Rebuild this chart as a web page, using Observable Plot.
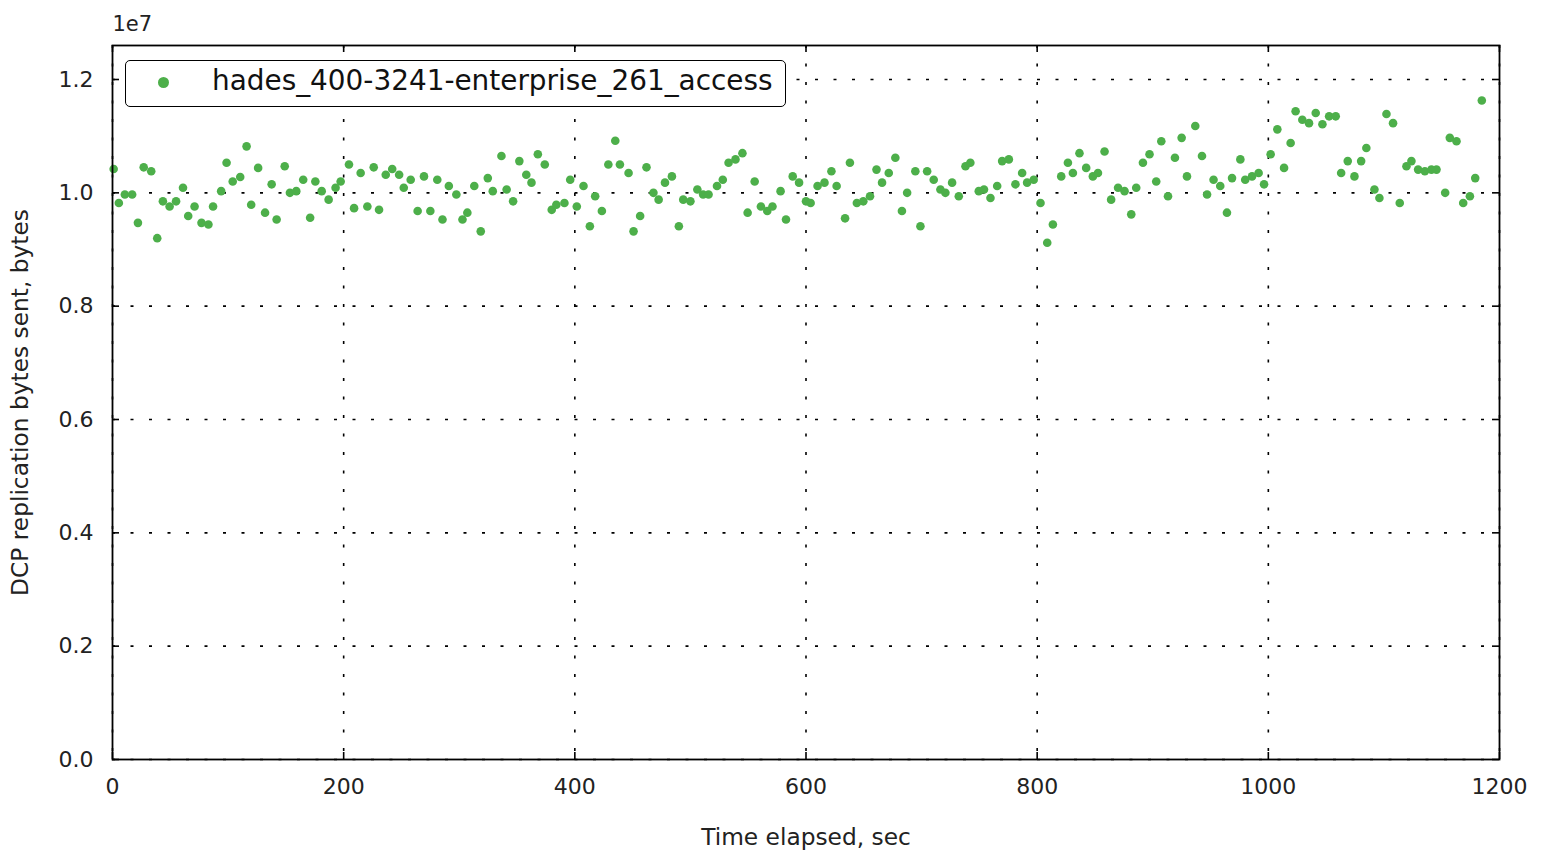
<!DOCTYPE html>
<html>
<head>
<meta charset="utf-8">
<script src="https://cdn.jsdelivr.net/npm/d3@7"></script>
<script src="https://cdn.jsdelivr.net/npm/@observablehq/plot@0.6"></script>
<style>
  html, body { margin: 0; padding: 0; background: #fff; }
  #wrap { position: relative; width: 1543px; height: 850px; font-family: "DejaVu Sans", sans-serif; }
  #legend { position: absolute; left: 125px; top: 60px; width: 661px; height: 47px; border: 1.5px solid #000; border-radius: 5px; background: #fff; box-sizing: border-box; }
  #legend .dot { position: absolute; left: 32px; top: 16px; width: 11px; height: 11px; border-radius: 50%; background: #4daf4a; }
  #legend .txt { position: absolute; left: 86px; top: 3px; font-size: 27.9px; line-height: 34px; color: #111; white-space: nowrap; }
</style>
</head>
<body>
<div id="wrap"><div id="chart"></div>
<div id="legend"><div class="dot"></div><div class="txt">hades_400-3241-enterprise_261_access</div></div>
</div>
<script>
const seriesName = "hades_400-3241-enterprise_261_access";
const timeSec = [1,5.5,10.7,17,22,27,33.5,38.7,43.6,49.4,55,61,65.5,71,77,83,87,94,98.7,104,110.5,116,120,126,132,137.7,142,149,153.5,159,165,171,175.5,181,187,193,197.4,204.6,209,214.7,220.5,226,230.6,236.4,242,248,252,258,264,269.5,275,281,285.5,291,297.5,302.8,307,313,318.6,324.7,329,336.5,341,346.6,352,358,362.5,368,374,380,384,391,396,401.7,407.5,413,417.6,423.4,429,435,439,446.5,450.8,456.5,462,468,472.5,478,484,490,493.8,500,506,511,515.7,523,528,533,539,545,549.5,555.6,561,566.5,571,578,582.7,588.5,594,600,604,610,616,622,626.5,633.8,638,644,649.6,655.4,661,665.8,671.6,677.3,683,687.5,694.6,699,704.8,710.5,716.3,720.6,726.4,732.2,738,742.2,749.5,754,759.6,765.4,769.7,775.5,781.2,787,791.3,797,802.9,808.7,813.6,820.8,826.6,830.9,836.6,842.4,848.2,852.6,858.3,864,870,875.6,881.4,885.7,891.5,897.2,903,907.4,913.2,919.2,925,929.6,936.8,942.6,947,952.6,958.4,964.2,968.6,975.8,980,985.9,991.6,996.3,1002,1007.8,1013.6,1019.3,1023.6,1029.4,1035.2,1041,1046.8,1052.6,1058.3,1063,1068.7,1074.5,1080.3,1084.8,1091.8,1096.1,1102.2,1107.9,1113.7,1119.5,1123.8,1129.6,1135.4,1141.1,1145.5,1153,1157,1162.8,1168.6,1174.4,1179,1184.7];
const bytesSent = [10420000,9820000,9970000,9970000,9470000,10450000,10380000,9200000,9850000,9760000,9850000,10090000,9590000,9760000,9470000,9440000,9760000,10030000,10530000,10200000,10280000,10820000,9790000,10440000,9650000,10150000,9530000,10470000,10000000,10030000,10230000,9560000,10200000,10030000,9880000,10090000,10200000,10500000,9730000,10350000,9760000,10450000,9700000,10320000,10420000,10320000,10090000,10230000,9680000,10290000,9680000,10230000,9530000,10120000,9970000,9530000,9650000,10120000,9320000,10260000,10030000,10650000,10060000,9850000,10560000,10320000,10180000,10680000,10500000,9700000,9790000,9820000,10230000,9760000,10120000,9410000,9940000,9680000,10500000,10920000,10500000,10350000,9320000,9590000,10450000,10000000,9880000,10180000,10290000,9410000,9880000,9850000,10060000,9970000,9970000,10120000,10230000,10530000,10590000,10700000,9650000,10200000,9760000,9680000,9760000,10030000,9530000,10290000,10180000,9850000,9820000,10120000,10180000,10380000,10120000,9550000,10530000,9820000,9850000,9940000,10410000,10180000,10350000,10620000,9680000,10000000,10380000,9410000,10380000,10230000,10060000,10000000,10180000,9940000,10470000,10530000,10030000,10060000,9910000,10120000,10560000,10590000,10150000,10350000,10180000,10230000,9820000,9120000,9440000,10290000,10530000,10350000,10700000,10440000,10290000,10350000,10730000,9880000,10090000,10030000,9620000,10090000,10530000,10680000,10200000,10910000,9940000,10620000,10970000,10290000,11180000,10650000,9970000,10230000,10120000,9650000,10260000,10590000,10230000,10290000,10350000,10150000,10680000,11120000,10440000,10880000,11440000,11290000,11230000,11410000,11210000,11350000,11350000,10350000,10560000,10290000,10560000,10790000,10060000,9910000,11390000,11230000,9820000,10470000,10560000,10410000,10380000,10410000,10410000,10000000,10970000,10910000,9820000,9940000,10260000,11630000];
const xTicks = [0, 200, 400, 600, 800, 1000, 1200];
const yTicks = [0, 2000000, 4000000, 6000000, 8000000, 10000000, 12000000];
const yTickLabels = ["0.0", "0.2", "0.4", "0.6", "0.8", "1.0", "1.2"];
const xLabel = "Time elapsed, sec";
const yLabel = "DCP replication bytes sent, bytes";
const offsetText = "1e7";

const points = timeSec.map((t, i) => ({t, b: bytesSent[i]}));

const W = 1543, H = 850;
const mL = 112, mR = 44, mT = 45, mB = 91;
const xDomain = [0, 1200], yDomain = [0, 12600000];
const tickPx = 7;
const xPerPx = (xDomain[1] - xDomain[0]) / (W - mL - mR);
const yPerPx = (yDomain[1] - yDomain[0]) / (H - mT - mB);
const tx = tickPx * xPerPx, ty = tickPx * yPerPx;

const chart = Plot.plot({
  width: W, height: H,
  marginLeft: mL, marginRight: mR, marginTop: mT, marginBottom: mB,
  style: {fontFamily: "DejaVu Sans, sans-serif", background: "#fff", color: "#222"},
  x: {domain: xDomain},
  y: {domain: yDomain},
  marks: [
    Plot.gridX(xTicks, {stroke: "#000", strokeOpacity: 1, strokeWidth: 1.6, strokeDasharray: "3,15.5"}),
    Plot.gridY(yTicks, {stroke: "#000", strokeOpacity: 1, strokeWidth: 1.6, strokeDasharray: "3,15.5"}),
    Plot.ruleY(yTicks, {x1: xDomain[0], x2: xDomain[0] + tx, stroke: "#000", strokeWidth: 1.6}),
    Plot.ruleY(yTicks, {x1: xDomain[1] - tx, x2: xDomain[1], stroke: "#000", strokeWidth: 1.6}),
    Plot.ruleX(xTicks, {y1: yDomain[0], y2: yDomain[0] + ty, stroke: "#000", strokeWidth: 1.6}),
    Plot.ruleX(xTicks, {y1: yDomain[1] - ty, y2: yDomain[1], stroke: "#000", strokeWidth: 1.6}),
    Plot.axisX({ticks: xTicks, tickSize: 0, tickPadding: 19, fontSize: 22, label: null, tickFormat: d => String(d)}),
    Plot.axisY({ticks: yTicks, tickSize: 0, tickPadding: 19, fontSize: 22, label: null, tickFormat: d => yTickLabels[yTicks.indexOf(d)]}),
    Plot.dot(points, {x: "t", y: "b", r: 4.3, fill: "#4daf4a", stroke: "none"}),
    Plot.frame({stroke: "#000", strokeWidth: 1.8}),
    Plot.text([xLabel], {frameAnchor: "bottom", dy: 85, lineAnchor: "bottom", fontSize: 23.3, fill: "#222"}),
    Plot.text([yLabel], {frameAnchor: "left", dx: -92, rotate: -90, textAnchor: "middle", lineAnchor: "middle", fontSize: 23.3, fill: "#222"}),
    Plot.text([offsetText], {frameAnchor: "top-left", dy: -15, lineAnchor: "bottom", textAnchor: "start", fontSize: 21, fill: "#222"})
  ]
});
document.getElementById("chart").appendChild(chart);
</script>
</body>
</html>
